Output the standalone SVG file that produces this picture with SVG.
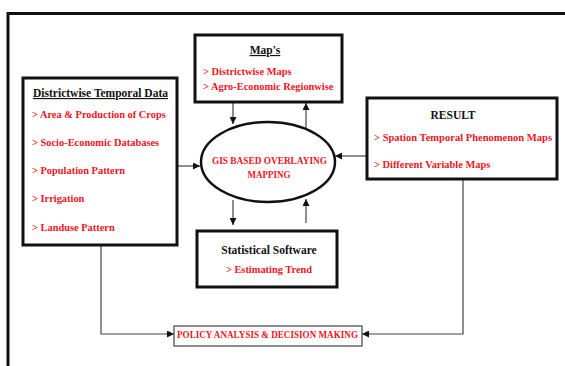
<svg xmlns="http://www.w3.org/2000/svg" width="565" height="366" viewBox="0 0 565 366">
  <style>
    .box { fill: #fff; stroke: #111; stroke-width: 3; }
    .thin { fill: #fff; stroke: #666; stroke-width: 1.5; }
    .conn { fill: none; stroke: #444; stroke-width: 1.2; }
    .head { font-family: "Liberation Serif", serif; font-weight: bold; font-size: 11.5px; fill: #111; }
    .item { font-family: "Liberation Serif", serif; font-weight: bold; font-size: 10.4px; fill: #f0141e; }
  </style>
  <defs>
    <marker id="arrow" viewBox="0 0 10 10" refX="10" refY="5" markerWidth="7" markerHeight="7" markerUnits="userSpaceOnUse" orient="auto">
      <path d="M0,0 L10,5 L0,10 z" fill="#111"/>
    </marker>
  </defs>
  <rect width="565" height="366" fill="#fff"/>

  <!-- outer frame -->
  <path d="M8,366 V13.5 H565" fill="none" stroke="#111" stroke-width="3"/>

  <!-- connectors -->
  <g id="connectors">
    <line class="conn" x1="177" y1="166" x2="200" y2="166" marker-end="url(#arrow)"/>
    <line class="conn" x1="233" y1="102" x2="233" y2="124" marker-end="url(#arrow)"/>
    <line class="conn" x1="306" y1="128" x2="306" y2="103" marker-end="url(#arrow)"/>
    <line class="conn" x1="367" y1="156" x2="335" y2="156" marker-end="url(#arrow)"/>
    <line class="conn" x1="233" y1="200" x2="233" y2="225" marker-end="url(#arrow)"/>
    <line class="conn" x1="306" y1="223" x2="306" y2="199" marker-end="url(#arrow)"/>
    <path class="conn" d="M101,245 V334 H174" marker-end="url(#arrow)"/>
    <path class="conn" d="M463,179 V334 H362" marker-end="url(#arrow)"/>
  </g>

  <g id="districtwise">
    <rect class="box" x="23" y="78" width="154" height="167"/>
    <text class="head" x="100.5" y="97" text-anchor="middle" text-decoration="underline" textLength="135" lengthAdjust="spacingAndGlyphs">Districtwise Temporal Data</text>
    <text class="item" x="32" y="118">&gt; Area &amp; Production of Crops</text>
    <text class="item" x="32" y="146">&gt; Socio-Economic Databases</text>
    <text class="item" x="32" y="174">&gt; Population Pattern</text>
    <text class="item" x="32" y="202">&gt; Irrigation</text>
    <text class="item" x="32" y="231">&gt; Landuse Pattern</text>
  </g>

  <g id="maps">
    <rect class="box" x="195" y="35" width="147" height="67"/>
    <text class="head" x="265" y="54" text-anchor="middle" text-decoration="underline">Map's</text>
    <text class="item" x="203" y="75">&gt; Districtwise Maps</text>
    <text class="item" x="203" y="90">&gt; Agro-Economic Regionwise</text>
  </g>

  <g id="gis">
    <ellipse cx="268" cy="162" rx="67" ry="40" fill="#fff" stroke="#111" stroke-width="2.5"/>
    <text class="item" x="269.5" y="164" text-anchor="middle" font-size="11.5" textLength="115" lengthAdjust="spacingAndGlyphs">GIS BASED OVERLAYING</text>
    <text class="item" x="269" y="177.5" text-anchor="middle" font-size="11.5" textLength="43" lengthAdjust="spacingAndGlyphs">MAPPING</text>
  </g>

  <g id="result">
    <rect class="box" x="367" y="98" width="190" height="81"/>
    <text class="head" x="453" y="119" text-anchor="middle" font-size="10.5">RESULT</text>
    <text class="item" x="374" y="141" textLength="178" lengthAdjust="spacingAndGlyphs">&gt; Spation Temporal Phenomenon Maps</text>
    <text class="item" x="374" y="168">&gt; Different Variable Maps</text>
  </g>

  <g id="statistical">
    <rect class="box" x="197" y="231" width="140" height="56"/>
    <text class="head" x="269" y="254" text-anchor="middle" font-size="12.8">Statistical Software</text>
    <text class="item" x="269" y="273" text-anchor="middle" font-size="9.8">&gt; Estimating Trend</text>
  </g>

  <g id="policy">
    <rect class="thin" x="174" y="326" width="188" height="20"/>
    <text class="item" x="267.5" y="338" text-anchor="middle" font-size="11.5" textLength="181" lengthAdjust="spacingAndGlyphs">POLICY ANALYSIS &amp; DECISION MAKING</text>
  </g>
</svg>
